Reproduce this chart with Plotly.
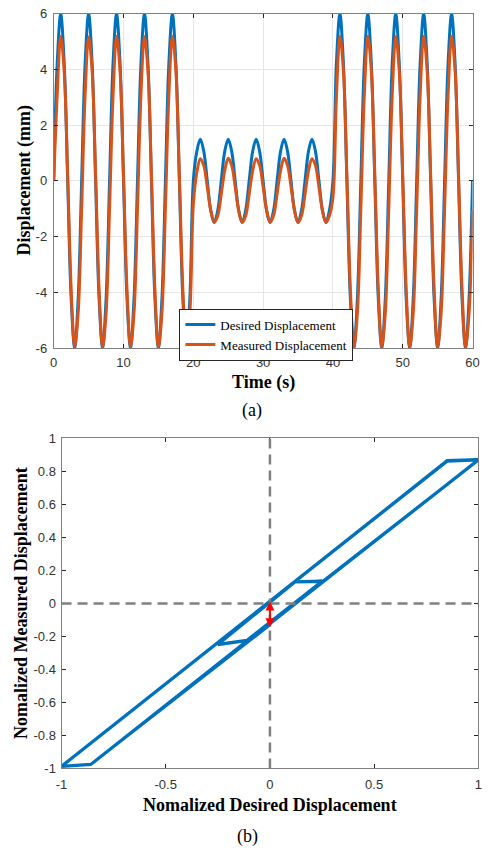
import numpy as np
import plotly.graph_objects as go

# ---------------- data: panel (a) ----------------
time_s = np.arange(0, 60.5, 0.5)

desired_mm = [
    0, 4.24, 6, 4.24, 0, -4.24, -6, -4.24,
    0, 4.24, 6, 4.24, 0, -4.24, -6, -4.24,
    0, 4.24, 6, 4.24, 0, -4.24, -6, -4.24,
    0, 4.24, 6, 4.24, 0, -4.24, -6, -4.24,
    0, 4.24, 6, 4.24, 0, -4.24, -6, -4.24,
    0, 1.06, 1.5, 1.06, 0, -1.06, -1.5, -1.06,
    0, 1.06, 1.5, 1.06, 0, -1.06, -1.5, -1.06,
    0, 1.06, 1.5, 1.06, 0, -1.06, -1.5, -1.06,
    0, 1.06, 1.5, 1.06, 0, -1.06, -1.5, -1.06,
    0, 1.06, 1.5, 1.06, 0, -1.06, -1.5, -1.06,
    0, 4.24, 6, 4.24, 0, -4.24, -6, -4.24,
    0, 4.24, 6, 4.24, 0, -4.24, -6, -4.24,
    0, 4.24, 6, 4.24, 0, -4.24, -6, -4.24,
    0, 4.24, 6, 4.24, 0, -4.24, -6, -4.24,
    0, 4.24, 6, 4.24, 0, -4.24, -6, -4.24,
    0,
]

measured_mm = [
    0, 3.1, 5.2, 3.95, 0.2, -3.9, -5.95, -4.75,
    -1.0, 3.1, 5.18, 3.97, 0.22, -3.9, -5.97, -4.77,
    -1.0, 3.08, 5.2, 3.95, 0.2, -3.92, -5.96, -4.76,
    -1.02, 3.1, 5.19, 3.96, 0.21, -3.9, -5.97, -4.77,
    -1.0, 3.1, 5.2, 3.97, 0.2, -3.9, -5.96, -4.76,
    -0.85, 0.3, 0.8, 0.55, -0.22, -1.07, -1.48, -1.25,
    -0.48, 0.37, 0.81, 0.55, -0.22, -1.07, -1.49, -1.25,
    -0.48, 0.36, 0.8, 0.56, -0.21, -1.06, -1.48, -1.24,
    -0.47, 0.37, 0.81, 0.55, -0.22, -1.07, -1.49, -1.25,
    -0.48, 0.37, 0.8, 0.55, -0.22, -1.07, -1.49, -1.25,
    -0.6, 3.0, 5.2, 3.97, 0.2, -3.9, -5.97, -4.77,
    -1.0, 3.1, 5.2, 3.96, 0.21, -3.9, -5.96, -4.76,
    -1.0, 3.1, 5.19, 3.97, 0.2, -3.91, -5.97, -4.77,
    -1.01, 3.1, 5.2, 3.96, 0.21, -3.9, -5.96, -4.76,
    -1.0, 3.09, 5.2, 3.97, 0.2, -3.9, -5.97, -4.77,
    -1.05,
]

time_ticks = [0, 10, 20, 30, 40, 50, 60]
time_ticktext = ["0", "10", "20", "30", "40", "50", "60"]
disp_ticks = [-6, -4, -2, 0, 2, 4, 6]
disp_ticktext = ["-6", "-4", "-2", "0", "2", "4", "6"]

# ---------------- data: panel (b) ----------------
hyst_x = [
    0.00, 1.00, 0.85, -1.00, -0.86,
    1.00, 0.85, -1.00, -0.86,
    1.00, 0.85, -1.00, -0.86,
    1.00, 0.85, -1.00, -0.86,
    1.00, 0.85, -1.00, -0.86,
    0.25, 0.12, -0.25, -0.11,
    0.25, 0.12, -0.25, -0.11,
    0.25, 0.12, -0.25, -0.11,
    0.25, 0.12, -0.25, -0.11,
    0.25, 0.12, -0.25, -0.11,
    1.00, 0.85, -1.00, -0.86,
    1.00, 0.85, -1.00, -0.86,
    1.00, 0.85, -1.00, -0.86,
    1.00, 0.85, -1.00, -0.86,
    1.00, 0.85, -1.00, -0.86,
    0.00,
]
hyst_y = [
    -0.120, 0.868, 0.861, -0.988, -0.977,
    0.870, 0.864, -0.986, -0.975,
    0.869, 0.862, -0.988, -0.977,
    0.871, 0.865, -0.987, -0.976,
    0.869, 0.863, -0.988, -0.976,
    0.133, 0.130, -0.250, -0.225,
    0.135, 0.131, -0.248, -0.223,
    0.134, 0.129, -0.249, -0.224,
    0.135, 0.130, -0.250, -0.225,
    0.134, 0.130, -0.249, -0.224,
    0.869, 0.862, -0.988, -0.976,
    0.870, 0.863, -0.986, -0.975,
    0.868, 0.861, -0.988, -0.977,
    0.871, 0.864, -0.987, -0.976,
    0.869, 0.862, -0.988, -0.976,
    -0.130,
]
norm_x_ticks = [-1, -0.5, 0, 0.5, 1]
norm_x_ticktext = ["-1", "-0.5", "0", "0.5", "1"]
norm_y_ticks = [-1, -0.8, -0.6, -0.4, -0.2, 0, 0.2, 0.4, 0.6, 0.8, 1]
norm_y_ticktext = ["-1", "-0.8", "-0.6", "-0.4", "-0.2", "0", "0.2", "0.4", "0.6", "0.8", "1"]
gap_arrow_top = 0.02
gap_arrow_bottom = -0.145

# ---------------- figure ----------------
W, H = 499, 858
BLUE = "#0072BD"
ORANGE = "#D95319"
SANS = "Liberation Sans, Arial, sans-serif"
SERIF = "Liberation Serif, Times New Roman, serif"

fig = go.Figure()
fig.add_trace(go.Scatter(x=time_s, y=desired_mm, mode="lines", name="Desired Displacement",
                         line=dict(color=BLUE, width=3, shape="spline", smoothing=1),
                         xaxis="x", yaxis="y"))
fig.add_trace(go.Scatter(x=time_s, y=measured_mm, mode="lines", name="Measured Displacement",
                         line=dict(color=ORANGE, width=3, shape="spline", smoothing=1),
                         xaxis="x", yaxis="y"))
fig.add_trace(go.Scatter(x=hyst_x, y=hyst_y, mode="lines", showlegend=False,
                         line=dict(color=BLUE, width=3),
                         xaxis="x2", yaxis="y2"))

def px(v):
    return v / W

def py(v):
    return 1 - v / H

axis_common = dict(showline=True, linecolor="#808080", linewidth=1, mirror="ticks",
                   ticks="inside", ticklen=4, tickcolor="#262626", tickwidth=1,
                   tickfont=dict(family=SANS, size=13, color="#333333"),
                   zeroline=False)

fig.update_layout(
    width=W, height=H, margin=dict(l=0, r=0, t=0, b=0),
    paper_bgcolor="white", plot_bgcolor="white",
    xaxis=dict(domain=[px(49), px(479)], range=[0, 60], anchor="y",
               tickvals=time_ticks, ticktext=time_ticktext, ticklabelstandoff=2,
               showgrid=True, gridcolor="#e6e6e6", **axis_common),
    yaxis=dict(domain=[py(347), py(7)], range=[-6, 6], anchor="x",
               tickvals=disp_ticks, ticktext=disp_ticktext, ticklabelstandoff=3,
               showgrid=True, gridcolor="#e6e6e6", **axis_common),
    xaxis2=dict(domain=[px(57), px(485)], range=[-1, 1], anchor="y2",
                tickvals=norm_x_ticks, ticktext=norm_x_ticktext, ticklabelstandoff=4,
                showgrid=False, **axis_common),
    yaxis2=dict(domain=[py(775), py(439)], range=[-1, 1], anchor="x2",
                tickvals=norm_y_ticks, ticktext=norm_y_ticktext, ticklabelstandoff=2,
                showgrid=False, **axis_common),
    legend=dict(x=px(178), y=py(307), xanchor="left", yanchor="top",
                bgcolor="white", bordercolor="#262626", borderwidth=1,
                font=dict(family=SERIF, size=13, color="black"),
                tracegroupgap=0),
)

# dashed reference lines at zero (panel b)
fig.add_shape(type="line", xref="x2", yref="y2", x0=0, x1=0, y0=-1, y1=1,
              line=dict(color="#808080", width=2.5, dash="10px,6px"))
fig.add_shape(type="line", xref="x2", yref="y2", x0=-1, x1=1, y0=0, y1=0,
              line=dict(color="#808080", width=2.5, dash="10px,6px"))

# red double-headed arrow
fig.add_annotation(x=0, y=gap_arrow_bottom, ax=0, ay=gap_arrow_top,
                   xref="x2", yref="y2", axref="x2", ayref="y2",
                   text="", showarrow=True, arrowhead=2, arrowside="end+start",
                   arrowsize=0.9, arrowwidth=2, arrowcolor="red", standoff=0, startstandoff=0)

def label(text, x, y, size=18, angle=0):
    fig.add_annotation(text=text, x=px(x), y=py(y), xref="paper", yref="paper",
                       xanchor="center", yanchor="middle", showarrow=False,
                       textangle=angle, font=dict(family=SERIF, size=size, color="black"))

label("<b>Time (s)</b>", 264, 382)
label("<b>Displacement (mm)</b>", 19, 177, angle=-90)
label("(a)", 253, 411)
label("<b>Nomalized Desired Displacement</b>", 271, 812)
label("<b>Nomalized Measured Displacement</b>", 16, 607, angle=-90)
label("(b)", 248, 844)

fig.write_html("out.html")
